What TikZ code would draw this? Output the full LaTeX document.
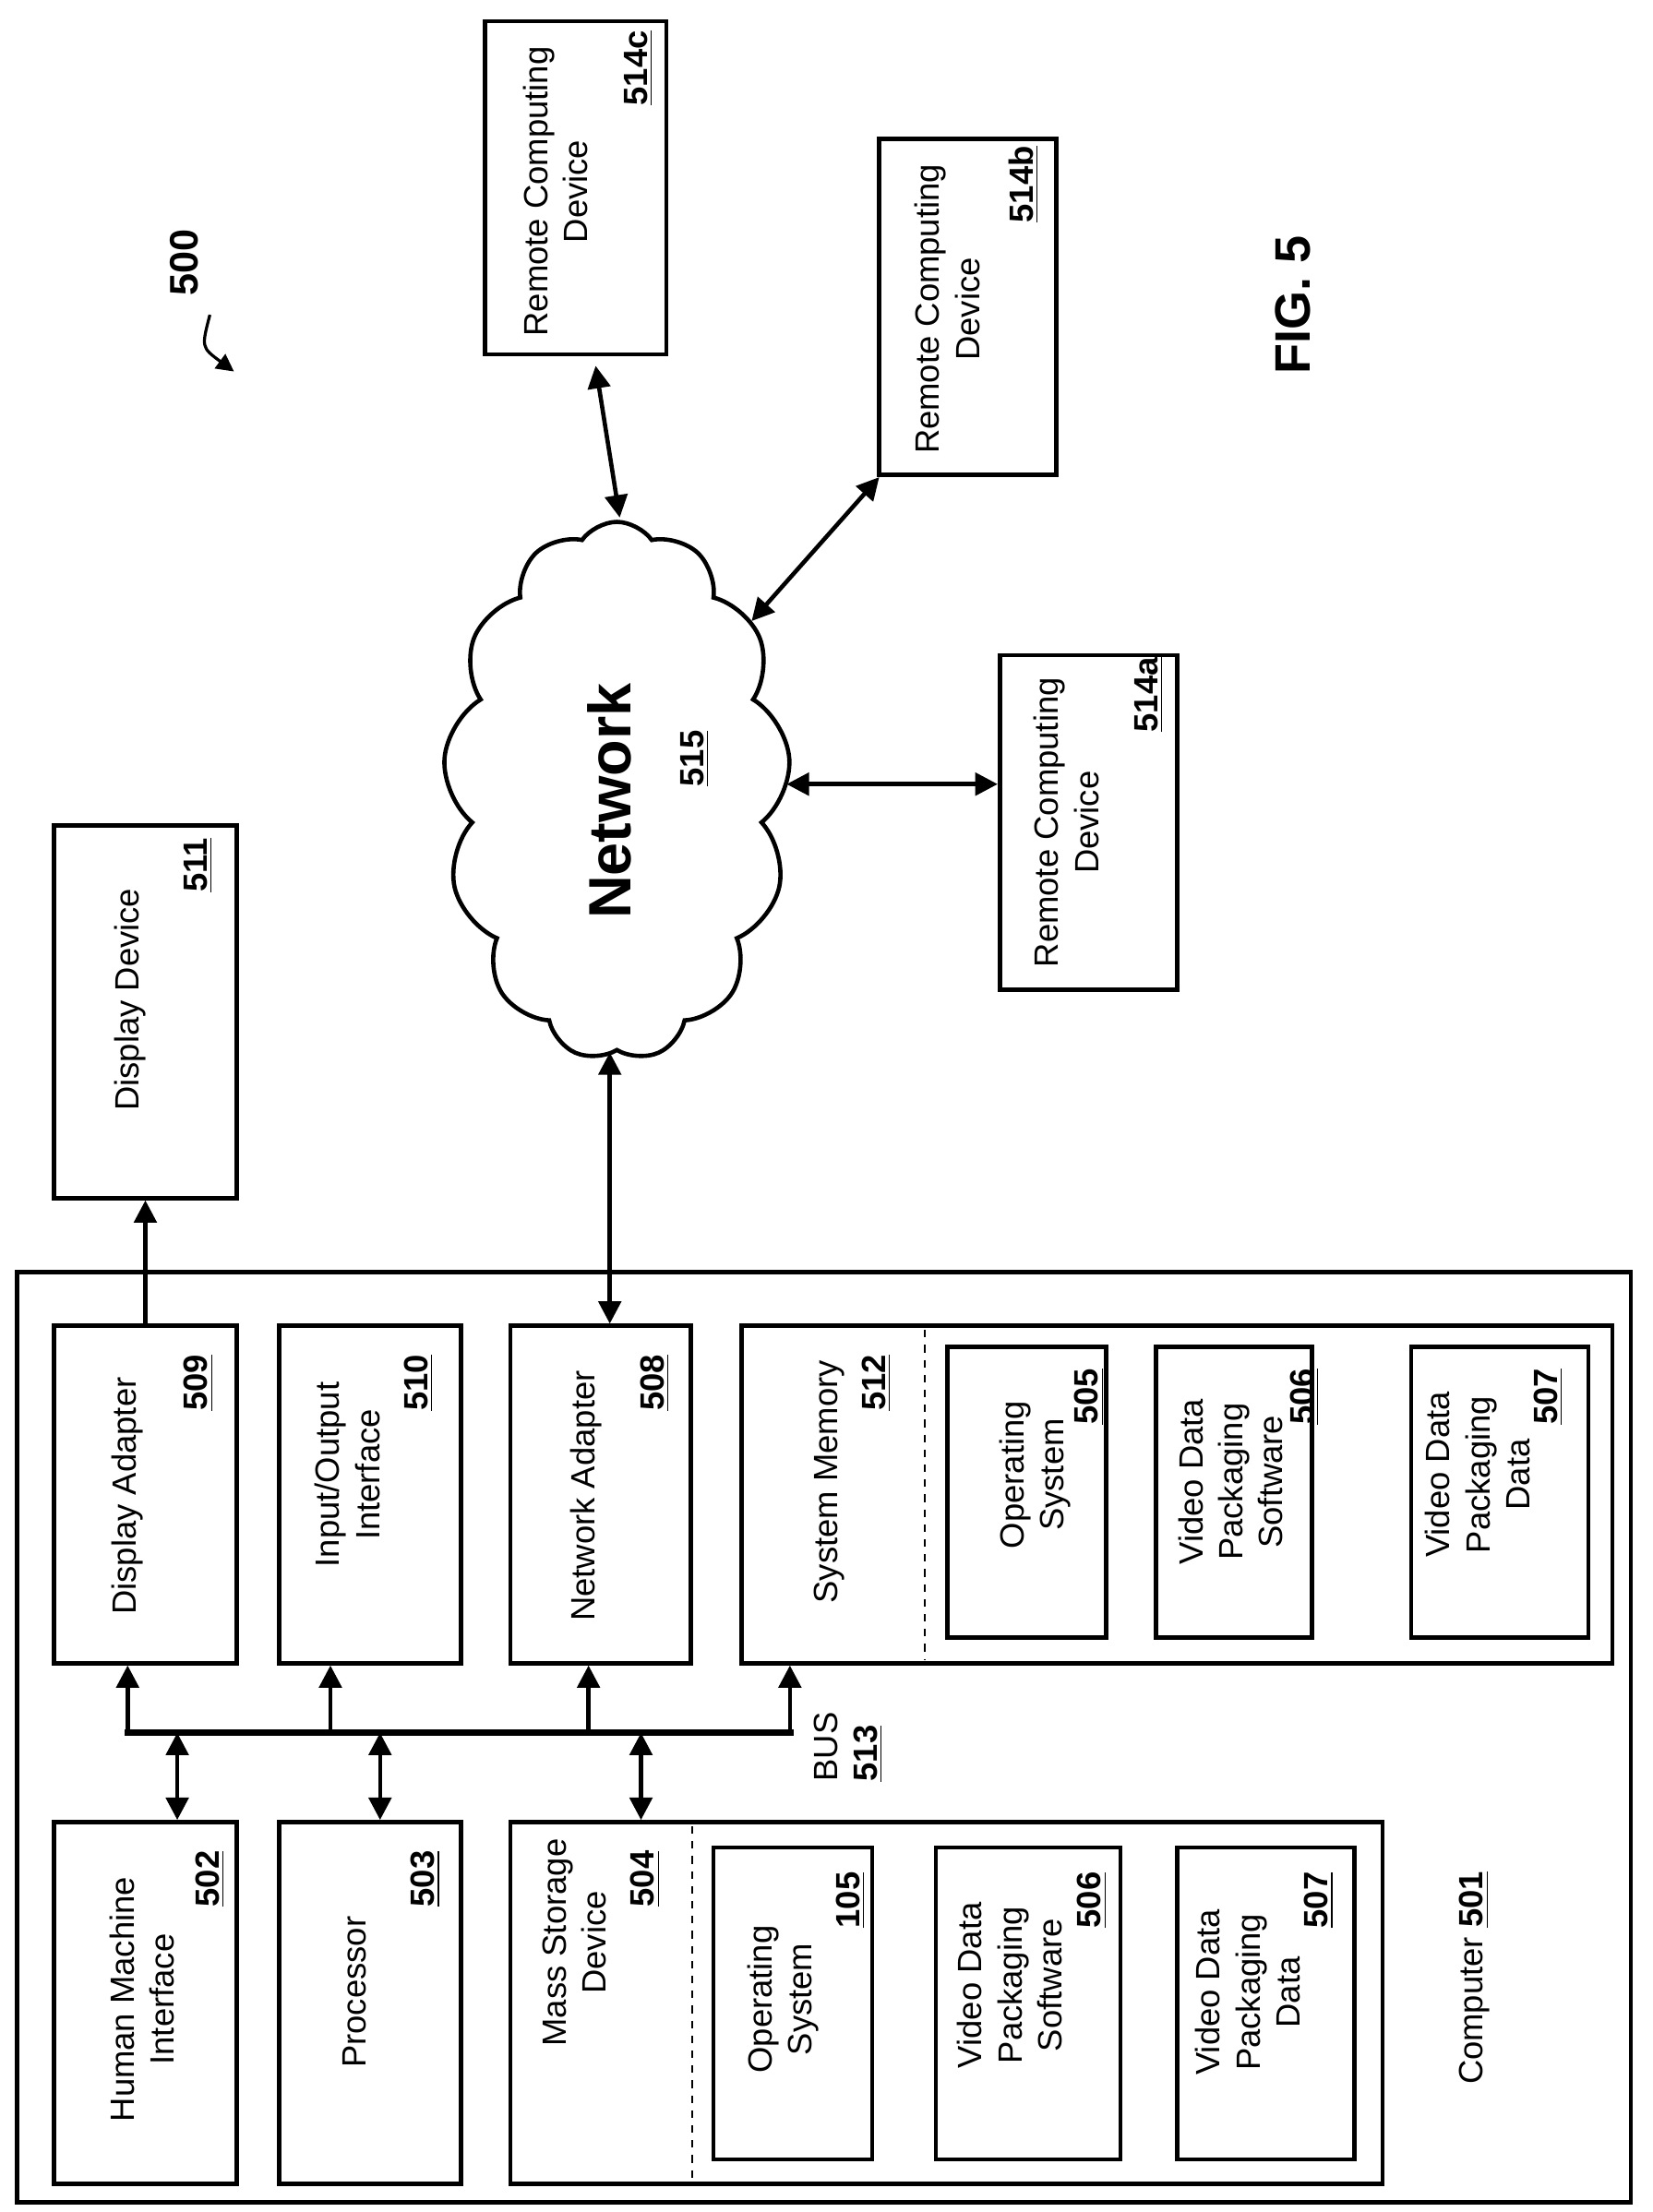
\documentclass[tikz,border=0pt]{standalone}
\usepackage{fontspec}
\setmainfont{Liberation Sans}
\usetikzlibrary{shapes.symbols,arrows.meta}
\begin{document}
\begin{tikzpicture}[x=0.02cm,y=-0.02cm,
  box/.style={draw,line width=1.7pt,inner sep=0pt},
  t/.style={rotate=90,align=center,font=\fontsize{13.5}{16}\selectfont,inner sep=0pt},
  n/.style={rotate=90,font=\fontsize{13.5}{16}\selectfont\bfseries,inner sep=0pt},
  ar/.style={line width=1.7pt,-{Triangle[length=9pt,width=9pt]}},
  dar/.style={line width=1.7pt,{Triangle[length=9pt,width=9pt]}-{Triangle[length=9pt,width=9pt]}},
  bus/.style={line width=2.6pt}]
\useasboundingbox (0,0) rectangle (1165,1560);
\newcommand\bx[5]{\node[box,minimum width={(#4-#2)*0.02cm},minimum height={(#5-#3)*0.02cm}] (#1) at ({(#2+#4)/2},{(#3+#5)/2}) {};}
\newcommand\un[1]{\underline{#1}}
% boxes
\bx{comp}{12}{897}{1150}{1553}
\bx{da}{38}{935}{167}{1173}
\bx{io}{197}{935}{325}{1173}
\bx{na}{360}{935}{487}{1173}
\bx{sm}{523}{935}{1137}{1173}
\bx{os1}{668}{950}{780}{1155}
\bx{vs1}{815}{950}{925}{1155}
\bx{vd1}{995}{950}{1120}{1155}
\bx{hmi}{38}{1285}{167}{1540}
\bx{pr}{197}{1285}{325}{1540}
\bx{ms}{360}{1285}{975}{1540}
\bx{os2}{503}{1303}{615}{1523}
\bx{vs2}{660}{1303}{790}{1523}
\bx{vd2}{830}{1303}{955}{1523}
\bx{dd}{38}{582}{167}{845}
\bx{ra}{705}{462}{830}{698}
\bx{rb}{620}{98}{745}{335}
\bx{rc}{342}{15}{470}{250}
\draw[dashed,line width=0.9pt] (652,938) coordinate (d1) -- (652,1170) coordinate (d2);
\draw[dashed,line width=0.9pt] (488,1288) coordinate (d3) -- (488,1537) coordinate (d4);
% cloud
\node[cloud,draw,line width=1.7pt,cloud puffs=13,cloud puff arc=110,aspect=0.65,minimum width=4.9cm,minimum height=7.6cm,inner sep=0pt] (net) at (435,558) {};
% texts
\node[t] at (92,705) {Display Device}; \node[n] at (140,610) {\un{511}};
\node[t] at (90,1055) {Display Adapter}; \node[n] at (140,975) {\un{509}};
\node[t] at (245,1040) {Input/Output\\Interface}; \node[n] at (295,975) {\un{510}};
\node[t] at (413,1055) {Network Adapter}; \node[n] at (462,975) {\un{508}};
\node[t] at (585,1045) {System Memory}; \node[n] at (618,975) {\un{512}};
\node[t] at (730,1040) {Operating\\System}; \node[n] at (768,985) {\un{505}};
\node[t] at (868,1045) {Video Data\\Packaging\\Software}; \node[n] at (920,985) {\un{506}};
\node[t] at (1042,1040) {Video Data\\Packaging\\Data}; \node[n] at (1092,985) {\un{507}};
\node[t] at (100,1410) {Human Machine\\Interface}; \node[n] at (148,1325) {\un{502}};
\node[t] at (250,1405) {Processor}; \node[n] at (300,1325) {\un{503}};
\node[t] at (405,1370) {Mass Storage\\Device}; \node[n] at (455,1325) {\un{504}};
\node[t] at (552,1410) {Operating\\System}; \node[n] at (600,1340) {\un{105}};
\node[t] at (712,1400) {Video Data\\Packaging\\Software}; \node[n] at (770,1340) {\un{506}};
\node[t] at (880,1405) {Video Data\\Packaging\\Data}; \node[n] at (930,1340) {\un{507}};
\node[t] at (1040,1395) {Computer \textbf{\un{501}}};
\node[t,align=left] at (598,1232) {BUS\\\textbf{\un{513}}};
\node[rotate=90,font=\fontsize{24}{28}\selectfont\bfseries] at (430,565) {Network};
\node[n] at (490,535) {\un{515}};
\node[t] at (752,580) {Remote Computing\\Device}; \node[n] at (810,490) {\un{514a}};
\node[t] at (668,218) {Remote Computing\\Device}; \node[n] at (722,130) {\un{514b}};
\node[t] at (392,135) {Remote Computing\\Device}; \node[n] at (450,48) {\un{514c}};
\node[rotate=90,font=\fontsize{16}{18}\selectfont\bfseries] (l500) at (130,185) {500};
\node[rotate=90,font=\fontsize{20}{24}\selectfont\bfseries] at (912,215) {FIG. 5};
\coordinate (c1) at (148,222); \coordinate (c2) at (165,262);
\draw[line width=1.2pt,-{Triangle[length=7pt,width=7pt]}] (c1) .. controls (142,245) .. (c2);
% connectors
\draw[ar] (da.north) -- (dd.south);
\draw[dar] (na.north -| 430,0) -- (net.south -| 430,0);
\draw[dar] (net.east |- 0,553) -- (ra.west |- 0,553);
\draw[dar] (530,438) -- (rb.south west -| 620,338);
\draw[dar] (420,258) -- (437,365);
% bus
\coordinate (b1) at (88,1222); \coordinate (b2) at (560,1222);
\draw[bus] (b1) -- (b2);
\foreach \xx/\nd in {90/da,233/io,415/na,557/sm} \draw[ar] (\xx,1222) -- (\nd.south -| \xx,0);
\foreach \xx/\nd in {125/hmi,268/pr,452/ms} \draw[dar] (\xx,1222) -- (\nd.north -| \xx,0);
\end{tikzpicture}
\end{document}
